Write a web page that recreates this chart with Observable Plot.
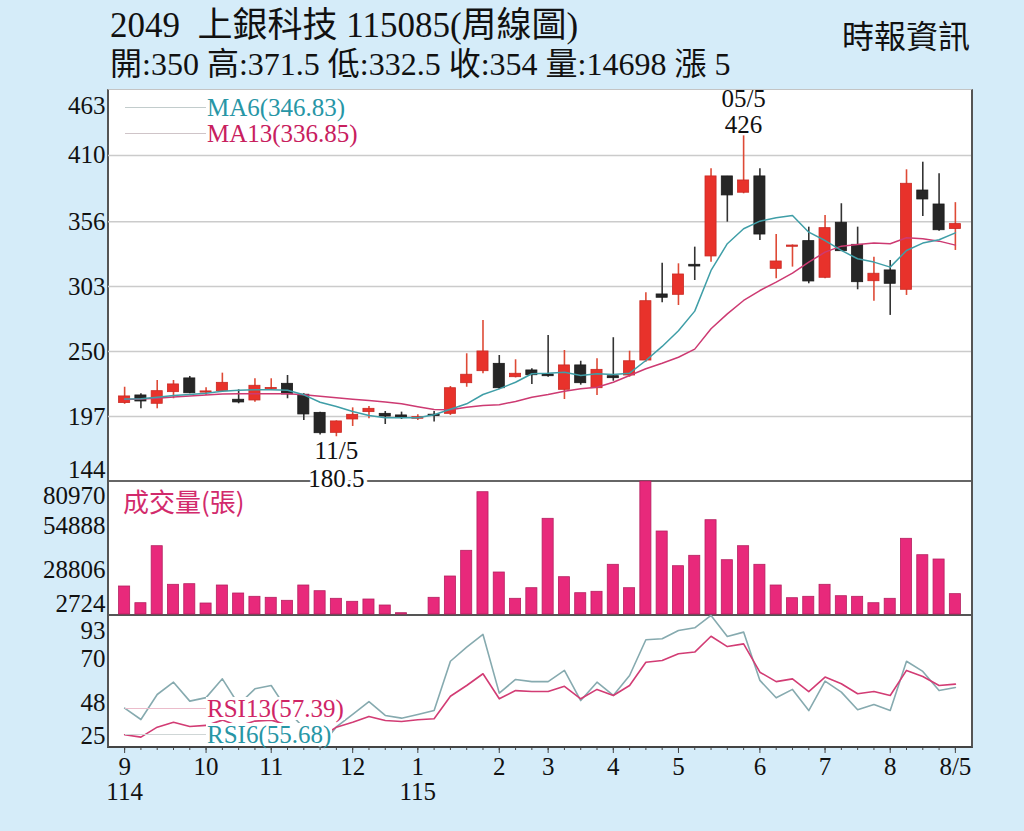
<!DOCTYPE html>
<html><head><meta charset="utf-8">
<script src="https://cdn.jsdelivr.net/npm/d3@7"></script>
<script src="https://cdn.jsdelivr.net/npm/@observablehq/plot@0.6"></script>
<style>
html,body{margin:0;padding:0;}
body{width:1024px;height:831px;background:#d5ecf9;position:relative;overflow:hidden;font-family:"Liberation Serif","Noto Sans CJK TC",serif;color:#111;}
.abs{position:absolute;}
#panel{left:107px;top:89px;width:866px;height:659px;box-sizing:border-box;background:#fff;border-left:2px solid #555;border-right:2px solid #555;border-top:1.5px solid #c4c4c4;border-bottom:2px solid #444;}
.sep{left:109px;width:862px;height:2px;background:#666;}
.pane{left:0;}
.leg{left:125px;display:flex;align-items:center;height:26px;font-size:25px;white-space:pre;z-index:5;}
.leg .ln{width:81px;height:0;border-top:1.5px solid #c8c8c8;}
.leg .tx{line-height:23px;background:#fff;padding:0 1px;}
</style></head><body>
<div id="panel" class="abs"></div>
<div class="abs sep" style="top:480px"></div>
<div class="abs sep" style="top:613.5px;background:#555"></div>
<div id="t1" class="abs" style="left:110px;top:7px;font-size:35px;line-height:38px;white-space:pre;"></div>
<div id="t2" class="abs" style="left:110px;top:46px;font-size:32px;line-height:36px;white-space:pre;"></div>
<div class="abs" style="right:54px;top:16px;font-size:32px;line-height:36px;font-family:'Noto Sans CJK TC';">時報資訊</div>
<div id="p1" class="abs pane" style="top:80px;z-index:3"></div>
<div id="p2" class="abs pane" style="top:481px;z-index:2"></div>
<div id="p3" class="abs pane" style="top:614px;z-index:2"></div>
<div id="legs"></div>
<script>
const weeks = d3.range(52);
const open  = [208.0,214.2,207.4,216.9,228.1,216.5,217.7,210.7,210.1,219.2,223.7,214.8,200.0,183.7,194.6,200.6,199.2,197.9,195.2,198.5,199.2,224.2,234.0,240.0,229.1,234.6,231.3,218.8,238.7,220.1,229.9,230.5,242.7,296.6,296.3,320.8,327.6,392.9,379.6,392.9,317.5,335.5,340.1,310.2,355.1,337.1,307.4,316.2,300.4,381.4,370.0,350];
const high  = [220.9,215.6,226.4,226.4,229.7,220.5,232.4,218.8,227.8,227.8,230.5,215.6,200.5,193.5,204.1,205.2,201.1,200.6,198.4,201.1,221.5,248.2,275.4,246.8,243.3,236.0,263.1,250.9,242.1,244.1,261.3,250.3,298.0,322.1,321.6,335.2,399.1,392.9,426,399.1,345.5,337.0,351.5,361.0,370.6,351.5,327.0,324.3,398.3,404.5,395.1,371.5];
const low   = [207.0,203.3,203.3,211.5,215.6,214.2,216.9,207.4,208.7,218.2,211.5,193.8,182.0,180.5,188.9,195.2,190.5,194.6,193.8,192.5,197.9,220.9,231.9,219.0,228.5,223.1,229.1,210.9,222.6,214.2,225.8,229.1,241.3,289.8,287.6,308.0,322.9,355.6,378.7,340.6,309.4,318.9,305.3,309.4,331.9,300.4,291.1,279.5,295.8,360.2,348.2,332.5];
const close = [213.4,209.3,217.7,223.2,216.0,217.5,224.5,208.5,222.1,220.3,215.0,198.7,183.4,193.0,198.4,203.3,197.0,195.7,196.5,197.4,220.1,231.1,250.1,220.1,231.9,230.7,229.9,238.7,224.2,235.1,228.3,242.1,291.1,293.9,312.9,319.4,392.9,377.4,389.6,345.5,323.5,336.5,307.2,350.7,331.9,306.6,313.5,305.3,386.9,374.1,349,354];
const ma6   = [211.3,211.5,212.8,214.2,215.0,216.0,217.7,218.5,218.8,218.8,218.5,214.7,208.7,205.2,201.1,197.9,196.0,196.0,196.0,198.5,203.0,207.4,215.0,219.6,225.0,231.9,232.4,233.2,230.5,231.9,231.3,232.4,242.7,254.2,267.0,283.0,316.2,338.0,350.2,356.4,359.2,361.0,347.4,340.6,332.5,325.7,323.0,318.9,332.5,338.5,341.2,346.83];
const ma13  = [211.0,211.3,212.0,213.0,213.8,214.5,215.3,215.6,215.6,215.6,215.6,214.8,213.5,212.3,211.2,210.1,208.8,207.4,205.0,202.7,202.5,204.6,206.1,206.6,209.3,212.8,215.0,217.7,219.6,220.9,225.0,230.5,236.0,240.5,245.4,252.0,268.6,280.8,291.7,299.8,306.6,314.0,323.0,331.1,336.0,337.4,338.5,338.0,342.8,342.0,340.1,336.85];
const volume = [19196,9372,42905,20197,20550,9195,19785,15078,13137,12548,10784,19785,16432,11960,10195,11549,8019,3489,2724,12548,25079,40199,74674,27433,11960,18197,59024,24667,15255,16079,31962,18197,80970,51553,31139,37257,58200,34669,42905,31962,19785,12313,13137,20197,13490,13137,9372,11960,47258,37610,35080,14698];
const rsi6  = [45.1,39.3,52.1,58.4,48.7,50.5,60.1,47.0,55.0,56.7,44.0,35.0,25.3,35.5,41.9,48.5,41.4,40.0,41.9,43.9,69.1,76.3,82.8,52.8,59.8,58.7,58.7,64.4,49.0,58.4,51.6,61.8,80.1,80.6,84.8,86.2,92.5,81.8,84.0,59.3,50.4,54.7,43.9,58.9,53.3,44.3,47.0,43.9,69.1,63.9,54.1,55.68];
const rsi13 = [31.5,30.3,35.4,37.9,35.7,36.3,39.0,36.0,38.5,39.0,36.5,33.0,30.0,35.4,37.9,40.9,38.8,38.3,39.2,39.7,51.2,56.7,62.7,49.9,54.1,53.6,53.6,56.3,49.9,54.7,51.6,56.7,68.6,69.5,72.9,73.8,81.9,76.6,78.0,63.5,58.7,60.1,53.6,61.0,57.6,52.5,53.6,51.6,64.4,61.3,56.7,57.39];
const priceTicks = [144,197,250,303,356,410,463];
const volTicks = [2724,28806,54888,80970];
const rsiTicks = [25,48,70,93];
const monthTickWeeks = [0,5,9,14,18,23,26,30,34,39,43,47,51];
const monthLabels = ["9\n114","10","11","12","1\n115","2","3","4","5","6","7","8","8/5"];
const lowLabel = "11/5", highLabel = "05/5";
const change = 5;

const L = weeks.length - 1;
document.getElementById("t1").textContent = "2049\u00a0\u00a0上銀科技 115085(周線圖)";
document.getElementById("t2").textContent = `開:${open[L]} 高:${high[L]} 低:${low[L]} 收:${close[L]} 量:${volume[L]} 漲 ${change}`;

const rows = weeks.map(i => ({i, open: open[i], high: high[i], low: low[i], close: close[i], ma6: ma6[i], ma13: ma13[i], vol: volume[i], rsi6: rsi6[i], rsi13: rsi13[i]}));
const up = d => d.close >= d.open;
const X = {type: "band", domain: weeks, paddingInner: 0.32, paddingOuter: 0.65, round: false, axis: null, label: null};
const common = {width: 1024, marginLeft: 108, marginRight: 53,
  style: {background: "transparent", overflow: "visible", fontFamily: "Liberation Serif", fontSize: "25px", color: "#111"}};
const ax = {tickSize: 0, tickPadding: 3, label: null, tickFormat: d => String(d)};
const iLow = d3.minIndex(low), iHigh = d3.maxIndex(high);

const p1 = Plot.plot({...common, height: 401, marginTop: 10, marginBottom: 0, x: X,
  y: {domain: [priceTicks[0], priceTicks[priceTicks.length-1]], axis: null, label: null},
  marks: [
    Plot.ruleY(priceTicks.slice(1, -1), {stroke: "#cbcbcb", strokeWidth: 1.5}),
    Plot.axisY(priceTicks.slice(1, -1), ax),
    Plot.axisY(priceTicks.slice(-1), {...ax, dy: 15}),
    Plot.axisY(priceTicks.slice(0, 1), {...ax, dy: -12}),
    Plot.ruleX(rows, {x: "i", y1: "low", y2: "high", stroke: d => up(d) ? "#de4a36" : "#333", strokeWidth: 1.6}),
    Plot.barY(rows, {x: "i", y1: "open", y2: "close", fill: d => up(d) ? "#e8322b" : "#262626", stroke: d => up(d) ? "#c92a24" : "#1a1a1a", strokeWidth: 0.8}),
    Plot.line(rows, {x: "i", y: "ma13", stroke: "#cd3a72", strokeWidth: 1.5}),
    Plot.line(rows, {x: "i", y: "ma6", stroke: "#3f9ea7", strokeWidth: 1.5}),
    Plot.text([rows[iLow]], {x: "i", y: "low", text: d => `${lowLabel}\n${d.low}`, lineAnchor: "top", dy: 3, fontSize: 25, lineHeight: 1.1, fill: "#111", stroke: "#fff", strokeWidth: 7, paintOrder: "stroke"}),
    Plot.text([rows[iHigh]], {x: "i", y: "high", text: d => `${highLabel}\n${d.high}`, lineAnchor: "bottom", dy: -3, fontSize: 25, lineHeight: 1.05, fill: "#111"})
  ]});
document.getElementById("p1").append(p1);

const p2 = Plot.plot({...common, height: 133, marginTop: 0, marginBottom: 0, x: X,
  y: {domain: [volTicks[0], volTicks[volTicks.length-1]], axis: null, label: null},
  marks: [
    Plot.axisY(volTicks.slice(1, -1), ax),
    Plot.axisY(volTicks.slice(-1), {...ax, dy: 14}),
    Plot.axisY(volTicks.slice(0, 1), {...ax, dy: -11}),
    Plot.barY(rows, {x: "i", y1: volTicks[0], y2: "vol", fill: "#e8297b", stroke: "#b52060", strokeWidth: 0.8})
  ]});
document.getElementById("p2").append(p2);

const p3 = Plot.plot({...common, height: 217, marginTop: 0, marginBottom: 84, x: X,
  y: {domain: [rsiTicks[0], rsiTicks[rsiTicks.length-1]], axis: null, label: null},
  marks: [
    Plot.axisY(rsiTicks.slice(1, -1), ax),
    Plot.axisY(rsiTicks.slice(-1), {...ax, dy: 16}),
    Plot.axisY(rsiTicks.slice(0, 1), {...ax, dy: -12}),
    Plot.line(rows, {x: "i", y: "rsi6", stroke: "#86aaaf", strokeWidth: 1.6}),
    Plot.line(rows, {x: "i", y: "rsi13", stroke: "#d23c74", strokeWidth: 1.6}),
    Plot.axisX(weeks, {anchor: "bottom", tickSize: 3, tickFormat: () => "", stroke: "#444", label: null}),
    Plot.axisX(monthTickWeeks, {anchor: "bottom", tickSize: 6, tickPadding: 4, stroke: "#444", label: null,
      tickFormat: d => monthLabels[monthTickWeeks.indexOf(d)]})
  ]});
document.getElementById("p3").append(p3);

const legends = [
  {top: 94, name: `MA6(${ma6[L]})`, color: "#2796a6", line: "#c2cccc"},
  {top: 120, name: `MA13(${ma13[L]})`, color: "#c8205e", line: "#cfc4c8"},
  {top: 695, name: `RSI13(${rsi13[L]})`, color: "#cf2566", line: "#ebbccb"},
  {top: 721, name: `RSI6(${rsi6[L]})`, color: "#2796a6", line: "#cfd6d6"}
];
const legs = document.getElementById("legs");
for (const g of legends) {
  const el = document.createElement("div");
  el.className = "abs leg";
  el.style.top = g.top + "px";
  el.innerHTML = `<span class="ln" style="border-top-color:${g.line}"></span><span class="tx" style="color:${g.color}">${g.name}</span>`;
  legs.append(el);
}
const vl = document.createElement("div");
vl.className = "abs";
vl.style.cssText = "left:123px;top:486px;font-size:26px;line-height:30px;color:#d22a6c;font-family:'Noto Sans CJK TC';z-index:5";
vl.textContent = "成交量(張)";
legs.append(vl);
</script>
</body></html>
